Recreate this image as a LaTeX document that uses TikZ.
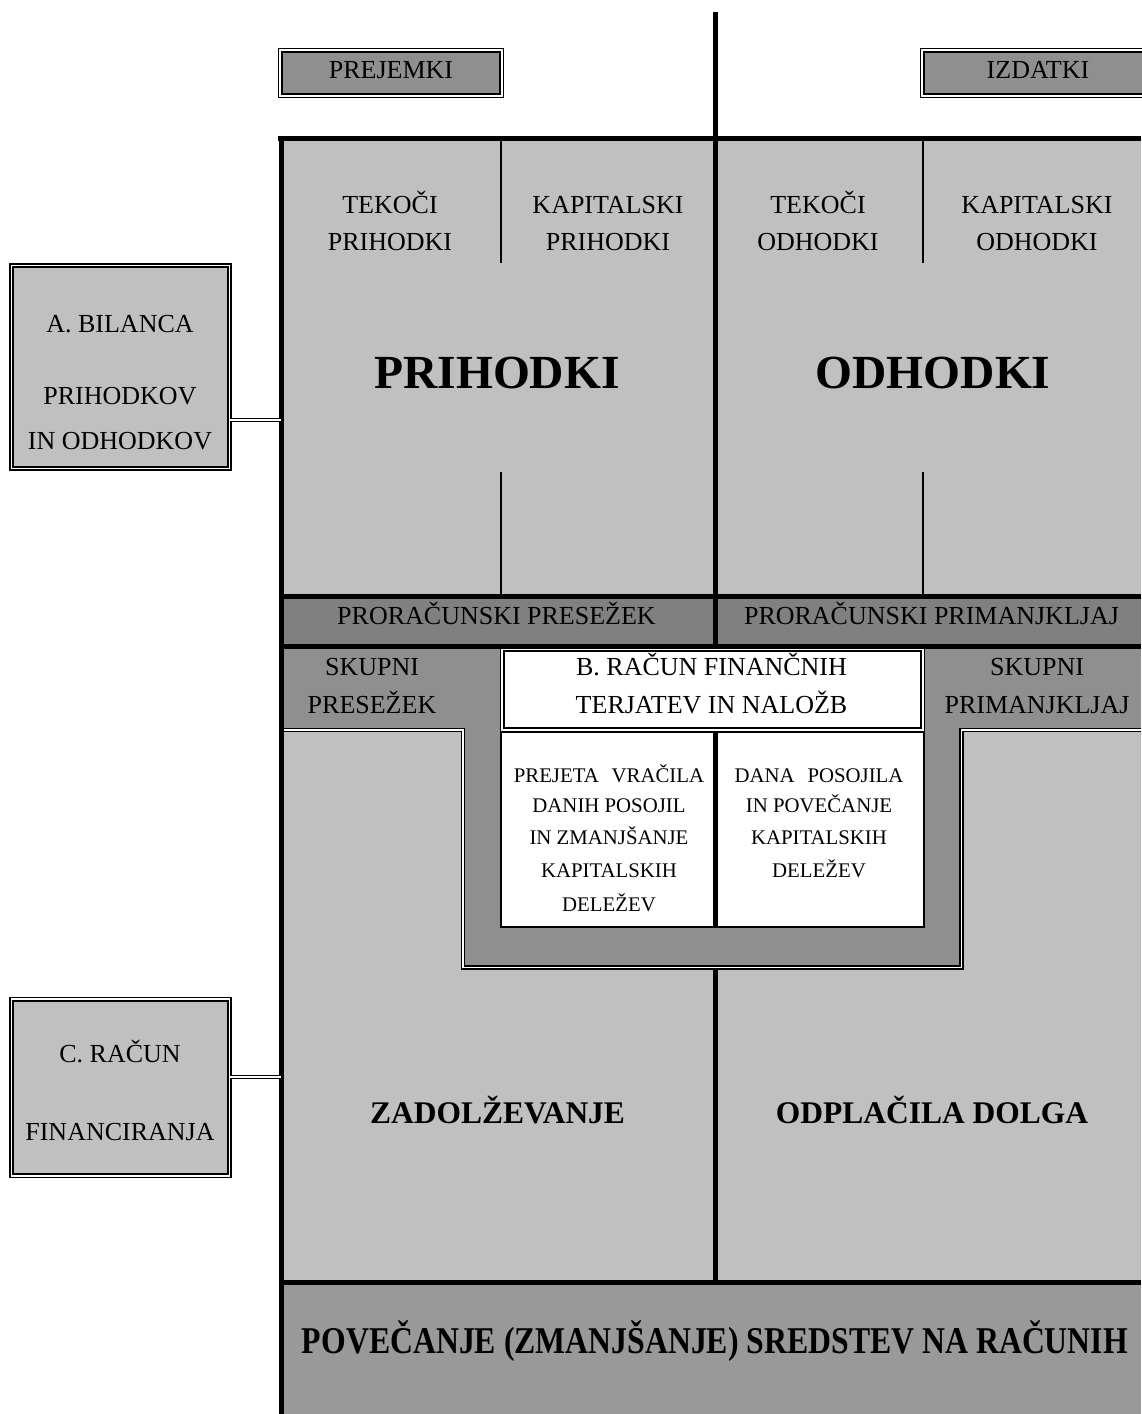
\documentclass[tikz,border=0pt]{standalone}
\usepackage{fontspec}
\setmainfont{Liberation Serif}
\usepackage{graphicx}
\definecolor{lgray}{HTML}{C0C0C0}
\definecolor{mgray}{HTML}{8F8F8F}
\definecolor{dgray}{HTML}{808080}
\definecolor{bgray}{HTML}{999999}
\tikzset{
  thickln/.style={line width=5pt},
  thinln/.style={line width=1.2pt},
  dbl/.style={draw=black, line width=1.4pt, double=white, double distance=1.8pt},
  reg/.style={font=\fontsize{26}{30}\selectfont, inner sep=0pt, anchor=base},
  smalltxt/.style={font=\fontsize{20.8}{24}\selectfont, inner sep=0pt, anchor=base},
  bigb/.style={font=\fontsize{47.5}{50}\selectfont\bfseries, inner sep=0pt, anchor=base},
  midb/.style={font=\fontsize{31.5}{34}\selectfont\bfseries, inner sep=0pt, anchor=base},
  boxnode/.style={dbl, inner sep=0pt, rectangle},
}
\begin{document}
\begin{tikzpicture}[x=1pt,y=-1pt]
\useasboundingbox (0,0) rectangle (1141,1414);
% ---- fills
\fill[lgray] (281,138) rectangle (1141,596);
\fill[dgray] (281,596) rectangle (1141,646);
\fill[mgray] (281,646) rectangle (1141,1282);
\fill[lgray] (281,730) -- (463,730) -- (463,967.5) -- (961.5,967.5) -- (961.5,730) -- (1141,730) -- (1141,1282) -- (281,1282) -- cycle;
\fill[bgray] (281,1282) rectangle (1141,1414);
% ---- double border of lower region
\draw[dbl] (283,730) -- (463,730) -- (463,967.5) -- (961.5,967.5) -- (961.5,730) -- (1141,730);
% ---- B box and white cells
\node[boxnode, fill=white, minimum width=420.4pt, minimum height=80.4pt] (bbox) at (712.5,689.5) {};
\draw[thinln, fill=white] (501,732) rectangle (924,927);
% ---- thin dividers in upper region
\draw[thinln] (501,141) -- (501,263);
\draw[thinln] (501,472) -- (501,596);
\draw[thinln] (923,141) -- (923,263);
\draw[thinln] (923,472) -- (923,596);
% ---- thick lines
\draw[thickln] (278,138.5) -- (1141,138.5);
\draw[thickln] (281,136) -- (281,1414);
\draw[thickln] (281,596) -- (1141,596);
\draw[thickln] (281,646) -- (1141,646);
\draw[thickln] (281,1282.5) -- (1141,1282.5);
\draw[thickln] (715,12) -- (715,646);
\draw[thickln] (715,732) -- (715,927);
\draw[thickln] (715,967.5) -- (715,1282.5);
% ---- header boxes
\node[boxnode, fill=mgray, minimum width=221.4pt, minimum height=45.4pt] (prejbox) at (391,73) {};
\node[boxnode, fill=mgray, minimum width=231.4pt, minimum height=45.4pt] (izdbox) at (1038,73) {};
\node[reg] (prej) at (391,78) {PREJEMKI};
\node[reg] (izd) at (1038,78) {IZDATKI};
% ---- side boxes
\node[boxnode, fill=lgray, minimum width=218pt, minimum height=203pt] (abox) at (120.5,367) {};
\node[boxnode, fill=lgray, minimum width=218pt, minimum height=176.4pt] (cbox) at (120.5,1087.5) {};
\coordinate (aL) at (281,420);
\coordinate (cL) at (281,1077);
\draw[dbl] (abox.east |- aL) -- (aL);
\draw[dbl] (cbox.east |- cL) -- (cL);
\node[reg] (a1) at (120,332) {A. BILANCA};
\node[reg] (a2) at (120,404) {PRIHODKOV};
\node[reg] (a3) at (120,449) {IN ODHODKOV};
\node[reg] (c1) at (120,1062) {C. RAČUN};
\node[reg] (c2) at (120,1140) {FINANCIRANJA};
% ---- upper texts
\node[reg] (t1a) at (390,213) {TEKOČI};
\node[reg] (t1b) at (390,250) {PRIHODKI};
\node[reg] (t2a) at (608,213) {KAPITALSKI};
\node[reg] (t2b) at (608,250) {PRIHODKI};
\node[reg] (t3a) at (818,213) {TEKOČI};
\node[reg] (t3b) at (818,250) {ODHODKI};
\node[reg] (t4a) at (1037,213) {KAPITALSKI};
\node[reg] (t4b) at (1037,250) {ODHODKI};
\node[bigb] (prih) at (497,388) {PRIHODKI};
\node[bigb] (odh) at (933,388) {ODHODKI};
% ---- band texts
\node[reg] (pp) at (496.5,624) {PRORAČUNSKI PRESEŽEK};
\node[reg] (pprim) at (931.5,624) {PRORAČUNSKI PRIMANJKLJAJ};
\node[reg] (sk1) at (372,675) {SKUPNI};
\node[reg] (sk2) at (372,713) {PRESEŽEK};
\node[reg] (b1) at (711.5,675) {B. RAČUN FINANČNIH};
\node[reg] (b2) at (711.5,713) {TERJATEV IN NALOŽB};
\node[reg] (sp1) at (1037,675) {SKUPNI};
\node[reg] (sp2) at (1037,713) {PRIMANJKLJAJ};
% ---- white cells
\node[smalltxt] (l1) at (609,782) {PREJETA\hspace{0.62em}VRAČILA};
\node[smalltxt] (l2) at (609,812) {DANIH POSOJIL};
\node[smalltxt] (l3) at (609,844) {IN ZMANJŠANJE};
\node[smalltxt] (l4) at (609,877) {KAPITALSKIH};
\node[smalltxt] (l5) at (609,911) {DELEŽEV};
\node[smalltxt] (r1) at (819,782) {DANA\hspace{0.62em}POSOJILA};
\node[smalltxt] (r2) at (819,812) {IN POVEČANJE};
\node[smalltxt] (r3) at (819,844) {KAPITALSKIH};
\node[smalltxt] (r4) at (819,877) {DELEŽEV};
% ---- lower texts
\node[midb] (zad) at (497.5,1123) {ZADOLŽEVANJE};
\node[midb] (odp) at (932,1123) {ODPLAČILA DOLGA};
\node[inner sep=0pt, anchor=base] (pov) at (715,1353) {\resizebox{826pt}{\height}{\fontsize{37.8}{40}\selectfont\bfseries POVEČANJE (ZMANJŠANJE) SREDSTEV NA RAČUNIH}};
\end{tikzpicture}
\end{document}
